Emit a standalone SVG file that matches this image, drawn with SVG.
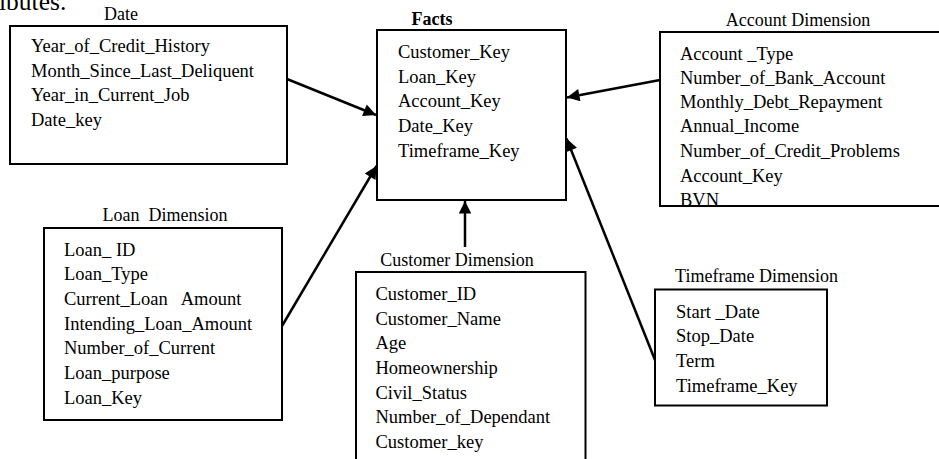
<svg xmlns="http://www.w3.org/2000/svg" width="939" height="459" viewBox="0 0 939 459">
<style>
text{font-family:"Liberation Serif","Times New Roman",serif;fill:#000}
.t{font-size:18.5px}
.h{font-size:18px}
.b{fill:none;stroke:#000;stroke-width:2}
.c{stroke:#000;stroke-width:2.5;fill:none}
</style>
<defs>
<marker id="ah" viewBox="0 0 10 10" refX="10" refY="5" markerWidth="6" markerHeight="5" markerUnits="strokeWidth" orient="auto">
<path d="M0,0 L10,5 L0,10 z" fill="#000"/>
</marker>
<clipPath id="accClip"><rect x="660" y="32" width="290" height="174"/></clipPath>
</defs>
<rect width="939" height="459" fill="#fff"/>
<text x="-1" y="10" style="font-size:25.5px">ibutes.</text>

<g id="date">
<text class="h" x="121" y="20" text-anchor="middle">Date</text>
<rect class="b" x="10" y="26" width="277" height="138"/>
<text class="t" x="31" y="52">Year_of_Credit_History</text>
<text class="t" x="31" y="76.5">Month_Since_Last_Deliquent</text>
<text class="t" x="31" y="101">Year_in_Current_Job</text>
<text class="t" x="31" y="125.5">Date_key</text>
</g>

<g id="facts">
<text x="432" y="25" text-anchor="middle" style="font-size:18px;font-weight:bold">Facts</text>
<rect class="b" x="377" y="30" width="189" height="170"/>
<text class="t" x="398" y="58">Customer_Key</text>
<text class="t" x="398" y="82.5">Loan_Key</text>
<text class="t" x="398" y="107">Account_Key</text>
<text class="t" x="398" y="132">Date_Key</text>
<text class="t" x="398" y="157">Timeframe_Key</text>
</g>

<g id="account">
<text class="h" x="798" y="25.5" text-anchor="middle">Account Dimension</text>
<rect class="b" x="660" y="32" width="290" height="174"/>
<g clip-path="url(#accClip)">
<text class="t" x="680" y="60">Account _Type</text>
<text class="t" x="680" y="84">Number_of_Bank_Account</text>
<text class="t" x="680" y="108">Monthly_Debt_Repayment</text>
<text class="t" x="680" y="132">Annual_Income</text>
<text class="t" x="680" y="157">Number_of_Credit_Problems</text>
<text class="t" x="680" y="181.5">Account_Key</text>
<text class="t" x="680" y="206">BVN</text>
</g>
</g>

<g id="loan">
<text class="h" x="165" y="220.5" text-anchor="middle" xml:space="preserve">Loan  Dimension</text>
<rect class="b" x="44" y="228" width="238" height="192"/>
<text class="t" x="64" y="255.5">Loan_ ID</text>
<text class="t" x="64" y="280">Loan_Type</text>
<text class="t" x="64" y="305" xml:space="preserve">Current_Loan   Amount</text>
<text class="t" x="64" y="329.5">Intending_Loan_Amount</text>
<text class="t" x="64" y="354">Number_of_Current</text>
<text class="t" x="64" y="379">Loan_purpose</text>
<text class="t" x="64" y="403.5">Loan_Key</text>
</g>

<g id="customer">
<text class="h" x="457" y="266" text-anchor="middle">Customer Dimension</text>
<path class="b" d="M356,470 V272 H585.5 V470"/>
<text class="t" x="375.5" y="300">Customer_ID</text>
<text class="t" x="375.5" y="324.5">Customer_Name</text>
<text class="t" x="375.5" y="348.5">Age</text>
<text class="t" x="375.5" y="373.5">Homeownership</text>
<text class="t" x="375.5" y="398.5">Civil_Status</text>
<text class="t" x="375.5" y="423">Number_of_Dependant</text>
<text class="t" x="375.5" y="447.5">Customer_key</text>
</g>

<g id="timeframe">
<text class="h" x="756.5" y="281.5" text-anchor="middle">Timeframe Dimension</text>
<rect class="b" x="655" y="289.5" width="172" height="116"/>
<text class="t" x="676" y="317.5">Start _Date</text>
<text class="t" x="676" y="342">Stop_Date</text>
<text class="t" x="676" y="366.5">Term</text>
<text class="t" x="676" y="391.5">Timeframe_Key</text>
</g>

<g id="connectors">
<line class="c" x1="287" y1="79" x2="376" y2="115" marker-end="url(#ah)"/>
<line class="c" x1="282" y1="326" x2="376.5" y2="166" marker-end="url(#ah)"/>
<line class="c" x1="465" y1="247" x2="465" y2="201" marker-end="url(#ah)"/>
<line class="c" x1="660" y1="80" x2="567" y2="97.5" marker-end="url(#ah)"/>
<line class="c" x1="655" y1="360" x2="566.5" y2="138.5" marker-end="url(#ah)"/>
</g>
</svg>
